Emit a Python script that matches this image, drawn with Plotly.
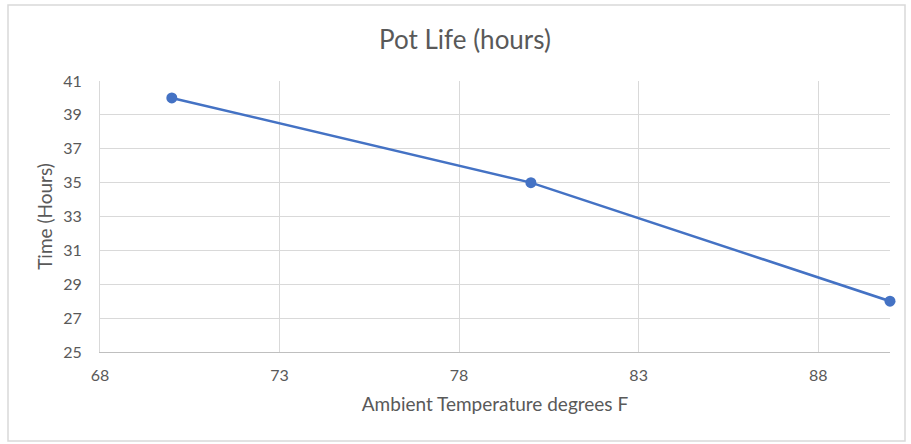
import plotly.graph_objects as go

temps = [70, 80, 90]
hours = [40, 35, 28]
x_ticks = [68, 73, 78, 83, 88]
y_ticks = [25, 27, 29, 31, 33, 35, 37, 39, 41]

W, H = 911, 444
L, R, T, B = 100, 21, 81, 92
pw, ph = W - L - R, H - T - B

fig = go.Figure(go.Scatter(
    x=temps, y=hours, mode="lines+markers",
    line=dict(color="#4472C4", width=2.5),
    marker=dict(color="#4472C4", size=11),
    cliponaxis=False,
    hoverinfo="skip"))

font = "Lato, 'Open Sans', sans-serif"
fig.update_layout(
    width=W, height=H,
    margin=dict(l=L, r=R, t=T, b=B),
    paper_bgcolor="white", plot_bgcolor="white",
    showlegend=False,
    font=dict(family=font, color="#595959", size=16),
    title=dict(text="Pot Life (hours)", x=465 / W, xanchor="center",
               y=1 - 40 / H, yanchor="middle",
               font=dict(size=26, color="#595959", family=font)),
    xaxis=dict(range=[68, 90], tickvals=x_ticks, ticktext=[str(v) for v in x_ticks],
               showgrid=True, gridcolor="#D9D9D9", gridwidth=1,
               showline=True, linecolor="#BFBFBF", linewidth=1,
               zeroline=False, ticks="", ticklabelstandoff=9,
               tickfont=dict(size=16, color="#595959"),
               title=dict(text="Ambient Temperature degrees F", standoff=14,
                          font=dict(size=19, color="#595959"))),
    yaxis=dict(range=[25, 41], tickvals=y_ticks, ticktext=[str(v) for v in y_ticks],
               showgrid=True, gridcolor="#D9D9D9", gridwidth=1,
               showline=True, linecolor="#D9D9D9", linewidth=1,
               zeroline=False, ticks="", ticklabelstandoff=14,
               tickfont=dict(size=16, color="#595959"),
               title=dict(text="Time (Hours)", standoff=5,
                          font=dict(size=19, color="#595959"))),
    shapes=[dict(type="rect", xref="paper", yref="paper",
                 x0=(8 - L) / pw, x1=(905 - L) / pw,
                 y0=(H - B - 441) / ph, y1=(H - B - 5) / ph,
                 line=dict(color="#D9D9D9", width=1.5), fillcolor="rgba(0,0,0,0)",
                 layer="below")],
)

fig.write_html("out.html", config={"displayModeBar": False},
               post_script="document.body.style.margin='0';")
